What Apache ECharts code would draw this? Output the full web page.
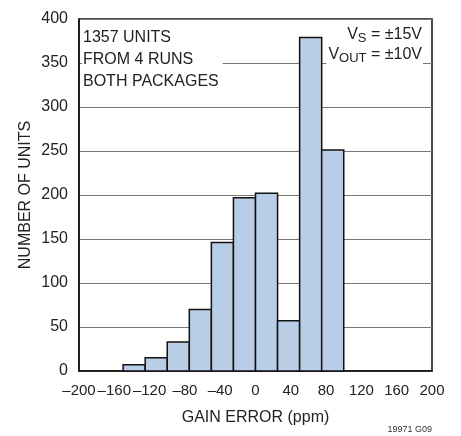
<!DOCTYPE html>
<html>
<head>
<meta charset="utf-8">
<script src="https://cdn.jsdelivr.net/npm/echarts@6/dist/echarts.min.js"></script>
<style>
html,body{margin:0;padding:0;background:#fff;}
#chart{width:461px;height:436px;}
</style>
</head>
<body>
<div id="chart"></div>
<script>
// Histogram bin edges (ppm) and counts
const binEdges = [-150, -125, -100, -75, -50, -25, 0, 25, 50, 75, 100];
const counts = [7, 15, 33, 70, 146, 197, 202, 57, 379, 251];
const xTicks = [-200, -160, -120, -80, -40, 0, 40, 80, 120, 160, 200];
const yTicks = [0, 50, 100, 150, 200, 250, 300, 350, 400];
const noteLines = ['1357 UNITS', 'FROM 4 RUNS', 'BOTH PACKAGES'];

const FONT = '"Liberation Sans", Arial, sans-serif';
const data = counts.map((c, i) => [binEdges[i], binEdges[i + 1], c]);

const chart = echarts.init(document.getElementById('chart'), null, {renderer: 'canvas'});
chart.setOption({
  animation: false,
  backgroundColor: '#fff',
  textStyle: {fontFamily: FONT},
  grid: {left: 79, right: 29, top: 19, bottom: 65, show: true, borderColor: '#111', borderWidth: 1.5, backgroundColor: 'transparent'},
  xAxis: {
    type: 'value', min: xTicks[0], max: xTicks[xTicks.length - 1], interval: 40,
    axisLine: {show: true, onZero: false, lineStyle: {color: '#111', width: 1.5}},
    axisTick: {show: false},
    splitLine: {show: false},
    axisLabel: {fontFamily: FONT, fontSize: 15, color: '#222', margin: 12,
      showMinLabel: true, showMaxLabel: true, hideOverlap: false,
      formatter: v => (v < 0 ? '\u2013' + Math.abs(v) : String(v))},
    name: 'GAIN ERROR (ppm)', nameLocation: 'middle', nameGap: 39,
    nameTextStyle: {fontFamily: FONT, fontSize: 16, color: '#222'}
  },
  yAxis: {
    type: 'value', min: yTicks[0], max: yTicks[yTicks.length - 1], interval: 50,
    axisLine: {show: true, onZero: false, lineStyle: {color: '#111', width: 1.5}},
    axisTick: {show: false},
    splitLine: {show: true, lineStyle: {color: '#777', width: 1.2}},
    axisLabel: {fontFamily: FONT, fontSize: 16, color: '#222', margin: 11,
      showMinLabel: true, showMaxLabel: true},
    name: 'NUMBER OF UNITS', nameLocation: 'middle', nameGap: 45, nameMoveOverlap: false,
    nameTextStyle: {fontFamily: FONT, fontSize: 16, color: '#222'}
  },
  series: [{
    type: 'custom',
    data: data,
    encode: {x: [0, 1], y: 2},
    z: 5,
    renderItem: function (params, api) {
      const p0 = api.coord([api.value(0), api.value(2)]);
      const p1 = api.coord([api.value(1), 0]);
      return {
        type: 'rect',
        shape: {x: p0[0], y: p0[1], width: p1[0] - p0[0], height: p1[1] - p0[1]},
        style: {fill: '#b8cde6', stroke: '#111', lineWidth: 1.5}
      };
    }
  }],
  graphic: [
    {
      type: 'text', left: 82, top: 27, z: 100,
      style: {text: noteLines.join('\n'), font: '16px ' + FONT, fill: '#222', lineHeight: 22,
        backgroundColor: '#fff', padding: [0, 4, 0, 1]}
    },
    {
      type: 'text', right: 39, top: 25, z: 100,
      style: {
        text: 'V{s|S} = \u00b115V',
        font: '16px ' + FONT, fill: '#222', lineHeight: 20,
        rich: {s: {fontSize: 13, fontFamily: FONT, fill: '#222', padding: [7, 0, 0, 0], lineHeight: 20}}
      }
    },
    {
      type: 'text', right: 38, top: 45, z: 100,
      style: {
        text: 'V{s|OUT} = \u00b110V',
        font: '16px ' + FONT, fill: '#222', lineHeight: 20,
        backgroundColor: '#fff', padding: [0, 1, 2, 2],
        rich: {s: {fontSize: 13, fontFamily: FONT, fill: '#222', padding: [7, 0, 0, 0], lineHeight: 20}}
      }
    },
    {
      type: 'text', right: 29, top: 425, z: 100,
      style: {text: '19971 G09', font: '9px ' + FONT, fill: '#333'}
    }
  ]
});
</script>
</body>
</html>
